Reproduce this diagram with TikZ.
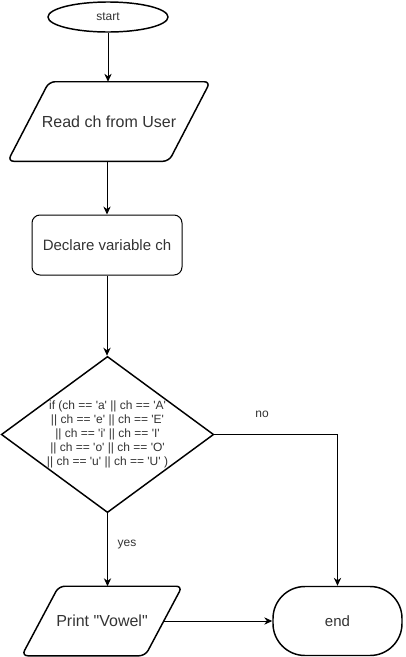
\documentclass[tikz,border=0pt]{standalone}
\usepackage{fontspec}
\setmainfont{Liberation Sans}[Ligatures=TeXOff]
\usetikzlibrary{shapes.geometric,arrows.meta}
\definecolor{txt}{HTML}{333333}
\begin{document}
\begin{tikzpicture}[x=0.75pt,y=-0.75pt,
  base/.style={draw=black, text=txt, inner sep=0pt, align=center},
  term/.style={base, ellipse, line width=1.1pt, font=\fontsize{9}{10.8}\selectfont},
  io/.style={text=txt, inner sep=0pt, align=center, rectangle, font=\fontsize{12}{14.4}\selectfont},
  ioline/.style={draw=black, line width=1.1pt, rounded corners=4.5pt},
  proc/.style={base, rectangle, rounded corners=6pt, line width=0.75pt, font=\fontsize{11.25}{13.5}\selectfont},
  cond/.style={base, diamond, aspect=1.36, line width=1.1pt, font=\fontsize{9}{10.5}\selectfont},
  stopbox/.style={base, rectangle, rounded corners=24pt, line width=1.1pt, font=\fontsize{11.25}{13.5}\selectfont},
  flow/.style={draw=black, line width=0.75pt, -{Stealth[length=6pt,width=5.5pt]}},
  lbl/.style={text=txt, font=\fontsize{9}{10.8}\selectfont}
]
\useasboundingbox (0,0) rectangle (405,657);

% shapes of the flowchart
\node[term, minimum width=90pt, minimum height=22.5pt] (start) at (108,17) {start};

\node[io, minimum width=151.5pt, minimum height=59.25pt] (read) at (109,121.5) {Read ch from User};
\draw[ioline] (read.south west) -- ([xshift=31pt]read.north west) -- (read.north east)
  -- ([xshift=-31pt]read.south east) -- cycle;

\node[proc, minimum width=112.5pt, minimum height=45pt] (decl) at (107,245) {Declare variable ch};

\node[cond, minimum width=158.25pt, minimum height=116.25pt] (dec) at (107.5,434.5)
  {if (ch == 'a' || ch == 'A'\\|| ch == 'e' || ch == 'E'\\|| ch == 'i' || ch == 'I'\\|| ch == 'o' || ch == 'O'\\|| ch == 'u' || ch == 'U' )};

\node[io, minimum width=120pt, minimum height=51.75pt] (print) at (102,621) {Print "Vowel"};
\draw[ioline] (print.south west) -- ([xshift=27.75pt]print.north west) -- (print.north east)
  -- ([xshift=-27.75pt]print.south east) -- cycle;
\coordinate (printR) at ([xshift=-13.9pt]print.east);

\node[stopbox, minimum width=96.75pt, minimum height=51.75pt] (end) at (337.5,621) {end};

% branch labels
\node[lbl] (nolbl) at (262,414) {no};
\node[lbl] (yeslbl) at (127,545) {yes};

% connectors
\draw[flow] (start.south) -- (start.south |- read.north);
\draw[flow] (decl.north |- read.south) -- (decl.north);
\draw[flow] (decl.south) -- (decl.south |- dec.north);
\draw[flow] (dec.east) -| (end.north);
\draw[flow] (dec.south) -- (dec.south |- print.north);
\draw[flow] (printR) -- (printR -| end.west);
\end{tikzpicture}
\end{document}
